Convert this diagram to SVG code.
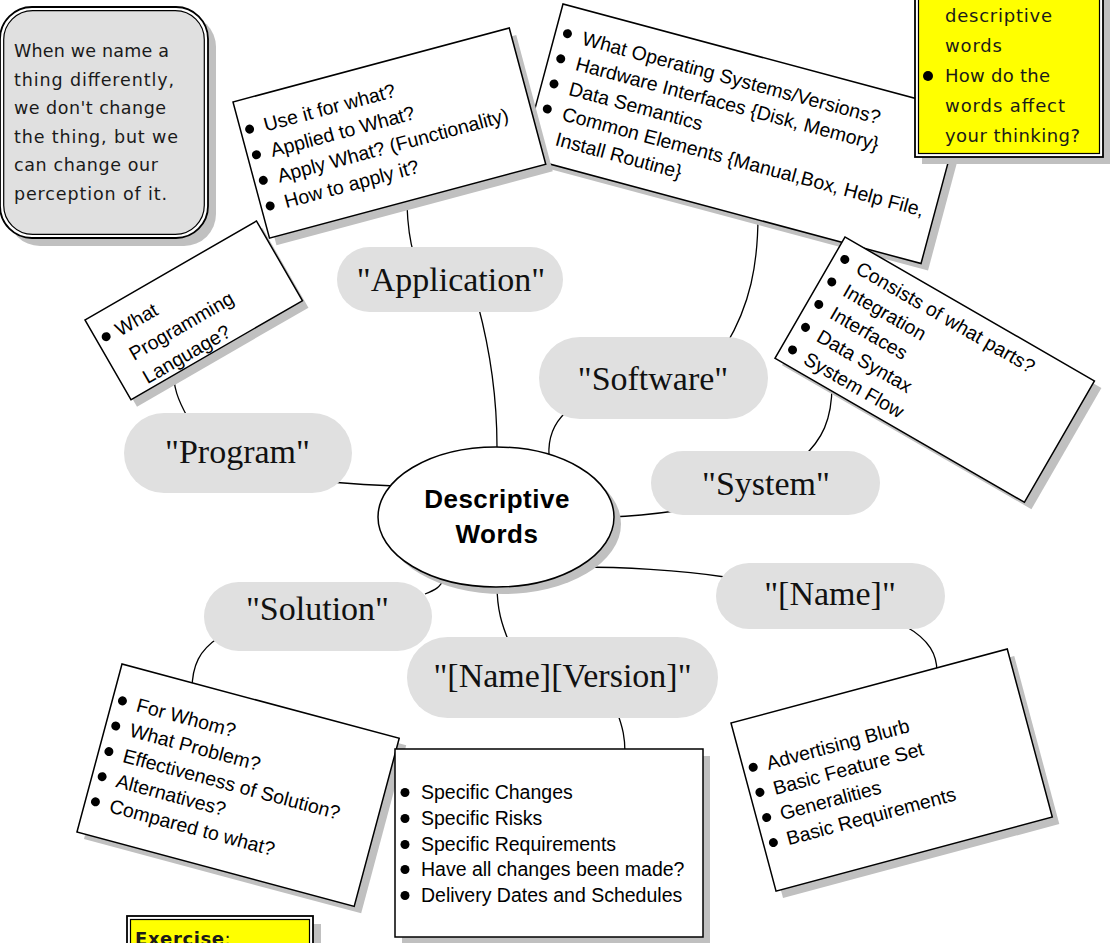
<svg xmlns="http://www.w3.org/2000/svg" width="1113" height="943" viewBox="0 0 1113 943">
<style>
.box{fill:#fff;stroke:#000;stroke-width:1.5}
.shadow{fill:#c0c0c0}
.pill{fill:#e0e0e0}
.pt{font-family:"Liberation Serif","Times New Roman",serif;font-size:34px;fill:#111;text-anchor:middle}
.body{font-family:"Liberation Sans",Arial,sans-serif;font-size:19.5px;fill:#000}
.bullet{fill:#000}
.conn{fill:none;stroke:#000;stroke-width:1.3}
.note{font-family:"DejaVu Sans",Verdana,sans-serif;font-size:17.5px;fill:#1a1a1a}
.ynote{font-family:"DejaVu Sans",Verdana,sans-serif;font-size:18px;fill:#1a1a1a}
.title{font-family:"Liberation Sans",Arial,sans-serif;font-weight:bold;font-size:26px;letter-spacing:0.5px;text-anchor:middle;fill:#000}
.outer{fill:#fff;stroke:#000;stroke-width:1.8}
.inner{stroke:#000;stroke-width:1.2}
</style>
<rect width="1113" height="943" fill="#fff"/>

<g id="connectors">
<path class="conn" d="M497,447 C497,400 490,350 478,305"/>
<path class="conn" d="M407,205 Q408,235 414,255"/>
<path class="conn" d="M549,456 C548,440 552,425 566,412"/>
<path class="conn" d="M758,215 C758,265 750,305 726,345"/>
<path class="conn" d="M610,517 Q640,516 675,511"/>
<path class="conn" d="M832,385 C832,420 822,440 802,458"/>
<path class="conn" d="M578,567 C620,567 680,570 725,577"/>
<path class="conn" d="M905,626 C930,640 937,655 937,672"/>
<path class="conn" d="M497,585 C497,610 502,625 509,642"/>
<path class="conn" d="M617,712 C623,728 625,738 625,753"/>
<path class="conn" d="M445,577 C440,588 435,590 425,594"/>
<path class="conn" d="M218,638 C200,650 192,665 192,690"/>
<path class="conn" d="M395,486 C370,485 355,484 330,482"/>
<path class="conn" d="M188,418 C178,400 173,388 173,365"/>
</g>

<g id="node-software-notes">
<rect class="shadow" transform="translate(570,11) rotate(15)" width="413" height="158"/>
<g transform="translate(563,4) rotate(15)">
<rect class="box" width="413" height="158"/>
<circle class="bullet" cx="12" cy="27.5" r="4.5"/>
<circle class="bullet" cx="12" cy="53.5" r="4.5"/>
<circle class="bullet" cx="12" cy="79.5" r="4.5"/>
<circle class="bullet" cx="12" cy="105.5" r="4.5"/>
<text class="body" x="28" y="34.5">What Operating Systems/Versions?</text>
<text class="body" x="28" y="60.5">Hardware Interfaces {Disk, Memory}</text>
<text class="body" x="28" y="86.5">Data Semantics</text>
<text class="body" x="28" y="112.5">Common Elements {Manual,Box, Help File,</text>
<text class="body" x="28" y="138.5">Install Routine}</text>
</g>
</g>

<g id="node-yellow-note">
<rect class="shadow" x="922" y="-43" width="188" height="207"/>
<rect class="outer" x="915" y="-50" width="188" height="207"/>
<rect class="inner" x="918.5" y="-46.5" width="181" height="200" fill="#ffff00"/>
<text class="ynote" x="945" y="21.5" textLength="107">descriptive</text>
<text class="ynote" x="945" y="51.5" textLength="57">words</text>
<circle class="bullet" cx="928" cy="76" r="5"/>
<text class="ynote" x="945" y="81.5" textLength="105">How do the</text>
<text class="ynote" x="945" y="111.5" textLength="120">words affect</text>
<text class="ynote" x="945" y="141.5" textLength="135">your thinking?</text>
</g>

<g id="node-application-notes">
<rect class="shadow" transform="translate(240,109) rotate(-15)" width="286" height="141"/>
<g transform="translate(233,102) rotate(-15)">
<rect class="box" width="286" height="141"/>
<circle class="bullet" cx="9" cy="30.5" r="4.5"/>
<circle class="bullet" cx="9" cy="57" r="4.5"/>
<circle class="bullet" cx="9" cy="83.5" r="4.5"/>
<circle class="bullet" cx="9" cy="110" r="4.5"/>
<text class="body" x="24" y="37">Use it for what?</text>
<text class="body" x="24" y="63.5">Applied to What?</text>
<text class="body" x="24" y="90">Apply What? (Functionality)</text>
<text class="body" x="24" y="116.5">How to apply it?</text>
</g>
</g>

<g id="node-quote">
<rect class="shadow" x="8" y="15" width="208" height="231" rx="32"/>
<rect class="outer" x="0" y="7" width="208" height="231" rx="32"/>
<rect class="inner" x="3.7" y="10.7" width="200.6" height="223.6" rx="29" fill="#e0e0e0"/>
<text class="note" x="14" y="57" textLength="155">When we name a</text>
<text class="note" x="14" y="85.6" textLength="160">thing differently,</text>
<text class="note" x="14" y="114.2" textLength="152">we don't change</text>
<text class="note" x="14" y="142.8" textLength="164">the thing, but we</text>
<text class="note" x="14" y="171.4" textLength="144">can change our</text>
<text class="note" x="14" y="200" textLength="153">perception of it.</text>
</g>

<g id="node-program-notes">
<rect class="shadow" transform="translate(91,327) rotate(-30)" width="198" height="92"/>
<g transform="translate(85,320) rotate(-30)">
<rect class="box" width="198" height="92"/>
<circle class="bullet" cx="10" cy="25" r="4.5"/>
<text class="body" x="22" y="32">What</text>
<text class="body" x="22" y="60">Programming</text>
<text class="body" x="22" y="87">Language?</text>
</g>
</g>

<g id="node-system-notes">
<rect class="shadow" transform="translate(852,244) rotate(30)" width="288" height="140"/>
<g transform="translate(845,237) rotate(30)">
<rect class="box" width="288" height="140"/>
<circle class="bullet" cx="11" cy="19.5" r="4.5"/>
<circle class="bullet" cx="11" cy="45.5" r="4.5"/>
<circle class="bullet" cx="11" cy="71.5" r="4.5"/>
<circle class="bullet" cx="11" cy="98" r="4.5"/>
<circle class="bullet" cx="11" cy="124" r="4.5"/>
<text class="body" x="26" y="26">Consists of what parts?</text>
<text class="body" x="26" y="52">Integration</text>
<text class="body" x="26" y="78">Interfaces</text>
<text class="body" x="26" y="104.5">Data Syntax</text>
<text class="body" x="26" y="130.5">System Flow</text>
</g>
</g>

<g id="node-application"><rect class="pill" x="337" y="247" width="226" height="65" rx="32.5"/><text class="pt" x="451" y="291">"Application"</text></g>
<g id="node-software"><rect class="pill" x="539" y="337" width="229" height="82" rx="41"/><text class="pt" x="653" y="390">"Software"</text></g>
<g id="node-system"><rect class="pill" x="651" y="451" width="229" height="64" rx="32"/><text class="pt" x="766" y="495">"System"</text></g>
<g id="node-name"><rect class="pill" x="716" y="563" width="229" height="66" rx="33"/><text class="pt" x="830" y="605">"[Name]"</text></g>
<g id="node-nameversion"><rect class="pill" x="407" y="637" width="311" height="81" rx="40.5"/><text class="pt" x="562.5" y="687">"[Name][Version]"</text></g>
<g id="node-solution"><rect class="pill" x="204" y="582" width="228" height="69" rx="34.5"/><text class="pt" x="317.5" y="620">"Solution"</text></g>
<g id="node-program"><rect class="pill" x="124" y="413" width="228" height="80" rx="40"/><text class="pt" x="237.5" y="463">"Program"</text></g>

<g id="node-center">
<ellipse class="shadow" cx="503" cy="524" rx="118" ry="70"/>
<ellipse cx="496" cy="517" rx="118" ry="70" fill="#fff" stroke="#000" stroke-width="1.5"/>
<text class="title" x="497" y="508">Descriptive</text>
<text class="title" x="497" y="543">Words</text>
</g>

<g id="node-solution-notes">
<rect class="shadow" transform="translate(129,671) rotate(15)" width="287" height="174"/>
<g transform="translate(122,664) rotate(15)">
<rect class="box" width="287" height="174"/>
<circle class="bullet" cx="10" cy="35.5" r="4.5"/>
<circle class="bullet" cx="10" cy="61.5" r="4.5"/>
<circle class="bullet" cx="10" cy="88" r="4.5"/>
<circle class="bullet" cx="10" cy="114" r="4.5"/>
<circle class="bullet" cx="10" cy="140" r="4.5"/>
<text class="body" x="25" y="42">For Whom?</text>
<text class="body" x="25" y="68">What Problem?</text>
<text class="body" x="25" y="94.5">Effectiveness of Solution?</text>
<text class="body" x="25" y="120.5">Alternatives?</text>
<text class="body" x="25" y="146.5">Compared to what?</text>
</g>
</g>

<g id="node-nameversion-notes">
<rect class="shadow" x="402" y="756" width="308" height="188"/>
<rect class="box" x="395" y="749" width="308" height="188"/>
<circle class="bullet" cx="405" cy="792.5" r="4.5"/>
<circle class="bullet" cx="405" cy="818.5" r="4.5"/>
<circle class="bullet" cx="405" cy="844.5" r="4.5"/>
<circle class="bullet" cx="405" cy="869.5" r="4.5"/>
<circle class="bullet" cx="405" cy="895.5" r="4.5"/>
<text class="body" x="421" y="799">Specific Changes</text>
<text class="body" x="421" y="825">Specific Risks</text>
<text class="body" x="421" y="851">Specific Requirements</text>
<text class="body" x="421" y="876">Have all changes been made?</text>
<text class="body" x="421" y="902">Delivery Dates and Schedules</text>
</g>

<g id="node-name-notes">
<rect class="shadow" transform="translate(738,730) rotate(-15)" width="286" height="174"/>
<g transform="translate(731,723) rotate(-15)">
<rect class="box" width="286" height="174"/>
<circle class="bullet" cx="10" cy="48.5" r="4.5"/>
<circle class="bullet" cx="10" cy="74.5" r="4.5"/>
<circle class="bullet" cx="10" cy="100.5" r="4.5"/>
<circle class="bullet" cx="10" cy="126.5" r="4.5"/>
<text class="body" x="24" y="55">Advertising Blurb</text>
<text class="body" x="24" y="81">Basic Feature Set</text>
<text class="body" x="24" y="107">Generalities</text>
<text class="body" x="24" y="133">Basic Requirements</text>
</g>
</g>

<g id="node-exercise">
<rect class="shadow" x="135" y="924" width="186" height="60"/>
<rect class="outer" x="127" y="916" width="186" height="60"/>
<rect class="inner" x="130.5" y="919.5" width="179" height="53" fill="#ffff00"/>
<text class="ynote" x="135" y="945" letter-spacing="0.6"><tspan font-weight="bold">Exercise</tspan>:</text>
</g>
</svg>
